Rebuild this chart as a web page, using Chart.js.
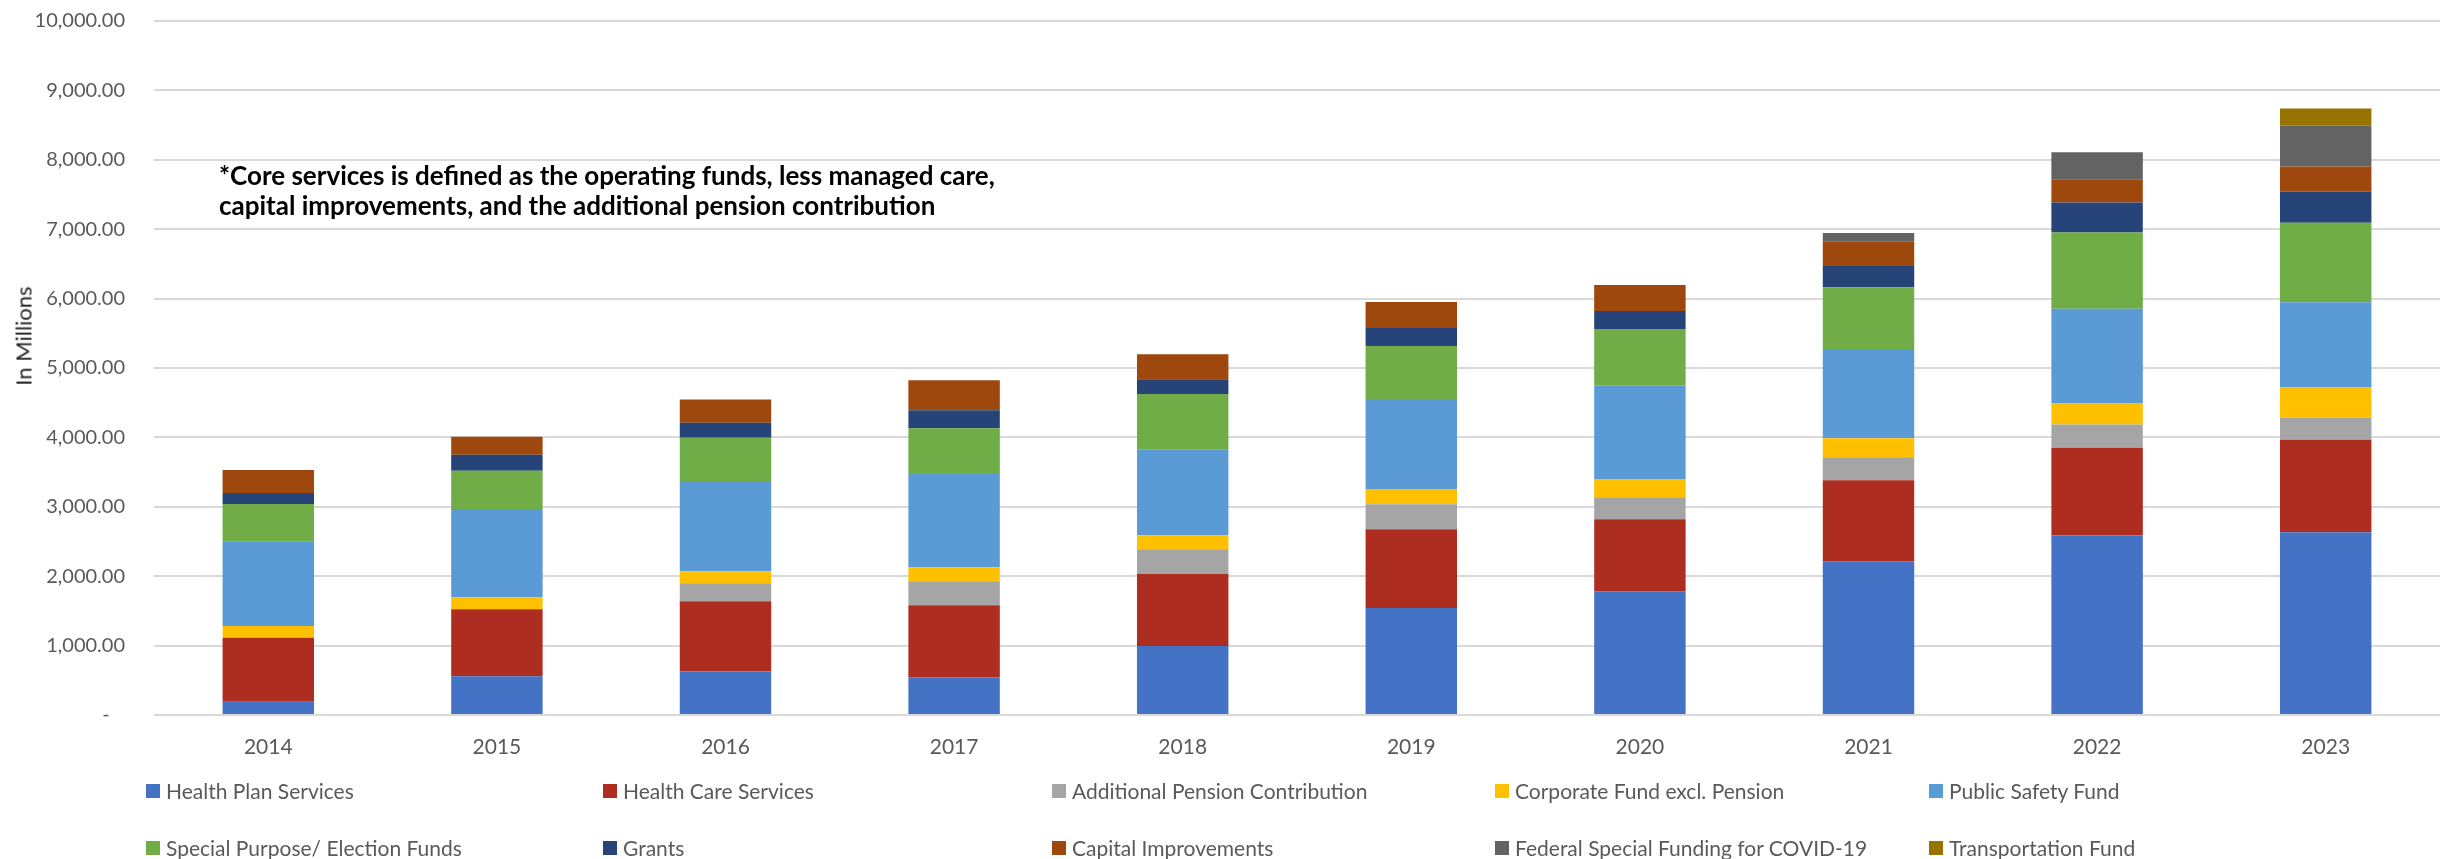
<!DOCTYPE html>
<html>
<head>
<meta charset="utf-8">
<script src="https://cdn.jsdelivr.net/npm/chart.js@4"></script>
<style>
  body { margin: 0; background: #fff; }
  #wrap { position: relative; width: 2455px; height: 859px; font-family: Lato, "Open Sans", sans-serif; }
  #note { position: absolute; left: 219px; top: 160px; font-weight: bold; font-size: 26px; line-height: 30px; color: #000; white-space: nowrap; }
  #ytitle { position: absolute; left: 23px; top: 336px; transform: translate(-50%, -50%) rotate(-90deg); font-size: 22px; color: #262626; white-space: nowrap; }
  #legend { position: absolute; left: 146px; top: 762px; display: grid; grid-template-columns: 457px 449px 443px 434px 400px; grid-auto-rows: 57px; }
  #legend div { display: flex; align-items: center; font-size: 21px; color: #595959; white-space: nowrap; }
  #legend span { display: inline-block; width: 14px; height: 14px; margin-right: 6px; }
</style>
</head>
<body>
<div id="wrap">
  <canvas id="chart99" width="2455" height="859"></canvas>
  <div id="note">*Core services is defined as the operating funds, less managed care,<br>capital improvements, and the additional pension contribution</div>
  <div id="ytitle">In Millions</div>
  <div id="legend"></div>
</div>
<script>
const years = ['2014', '2015', '2016', '2017', '2018', '2019', '2020', '2021', '2022', '2023']

// values in millions
const healthPlan = [192, 559, 627, 543, 994, 1543, 1784, 2215, 2588, 2635]
const healthCare = [922, 964, 1012, 1037, 1038, 1135, 1038, 1168, 1263, 1331]
const pension = [0, 0, 260, 346, 355, 360, 317, 332, 335, 319]
const corporate = [168, 173, 173, 202, 202, 217, 260, 273, 302, 434]
const publicSafety = [1215, 1273, 1301, 1345, 1239, 1298, 1346, 1284, 1366, 1228]
const specialPurpose = [543, 549, 622, 658, 797, 764, 818, 893, 1100, 1146]
const grants = [159, 231, 217, 259, 212, 260, 259, 303, 429, 452]
const capital = [331, 261, 333, 432, 360, 375, 375, 360, 335, 359]
const covid = [0, 0, 0, 0, 0, 0, 0, 116, 389, 590]
const transportation = [0, 0, 0, 0, 0, 0, 0, 0, 0, 244]

const seriesNames = ['Health Plan Services', 'Health Care Services', 'Additional Pension Contribution', 'Corporate Fund excl. Pension', 'Public Safety Fund',
    'Special Purpose/ Election Funds', 'Grants', 'Capital Improvements', 'Federal Special Funding for COVID-19', 'Transportation Fund']
const seriesValues = [healthPlan, healthCare, pension, corporate, publicSafety, specialPurpose, grants, capital, covid, transportation]
const seriesColors = ['#4472C4', '#AD2E21', '#A5A5A5', '#FFC000', '#5B9BD5', '#70AD47', '#264478', '#9E480E', '#636363', '#997300']

const yTicks = { min: 0, max: 10000, step: 1000 }

const data = {
    labels: years,
    datasets: seriesNames.map((name, i) => ({
        label: name,
        data: seriesValues[i],
        backgroundColor: seriesColors[i],
        borderWidth: 0,
        barPercentage: 0.4,
        categoryPercentage: 1
    }))
}

const options = {
    responsive: false,
    animation: false,
    devicePixelRatio: 1,
    layout: { padding: { left: 0, right: 15, top: 21, bottom: 84 } },
    plugins: {
        legend: { display: false },
        tooltip: { enabled: false }
    },
    scales: {
        x: {
            stacked: true,
            grid: { display: false, drawTicks: false },
            border: { display: false },
            ticks: { color: '#595959', font: { family: 'Lato', size: 21 }, padding: 20 },
            afterFit: scale => {
                scale.height = 60
                scale.paddingLeft = 0
                scale.paddingRight = 0
            }
        },
        y: {
            stacked: true,
            min: yTicks.min,
            max: yTicks.max,
            grid: { color: '#d9d9d9', lineWidth: 2, drawTicks: false },
            border: { display: false },
            ticks: {
                stepSize: yTicks.step,
                color: '#595959',
                font: { family: 'Lato', size: 20 },
                padding: 29,
                callback: v => v === 0 ? '-   ' : v.toLocaleString('en-US', { minimumFractionDigits: 2, maximumFractionDigits: 2 })
            },
            afterFit: scale => {
                // pin the plot area: 154px axis, no extra room above the top tick
                scale.width = 154
                scale.paddingTop = 0
                scale.paddingBottom = 0
            }
        }
    }
}

const chart = new Chart('chart99', { type: 'bar', data, options })

// legend laid out in a 5 column grid like the original
const legendBox = document.getElementById('legend')
chart.data.datasets.forEach(ds => {
    const item = document.createElement('div')
    const sw = document.createElement('span')
    sw.style.background = ds.backgroundColor
    item.appendChild(sw)
    item.appendChild(document.createTextNode(ds.label))
    legendBox.appendChild(item)
})
</script>
</body>
</html>
